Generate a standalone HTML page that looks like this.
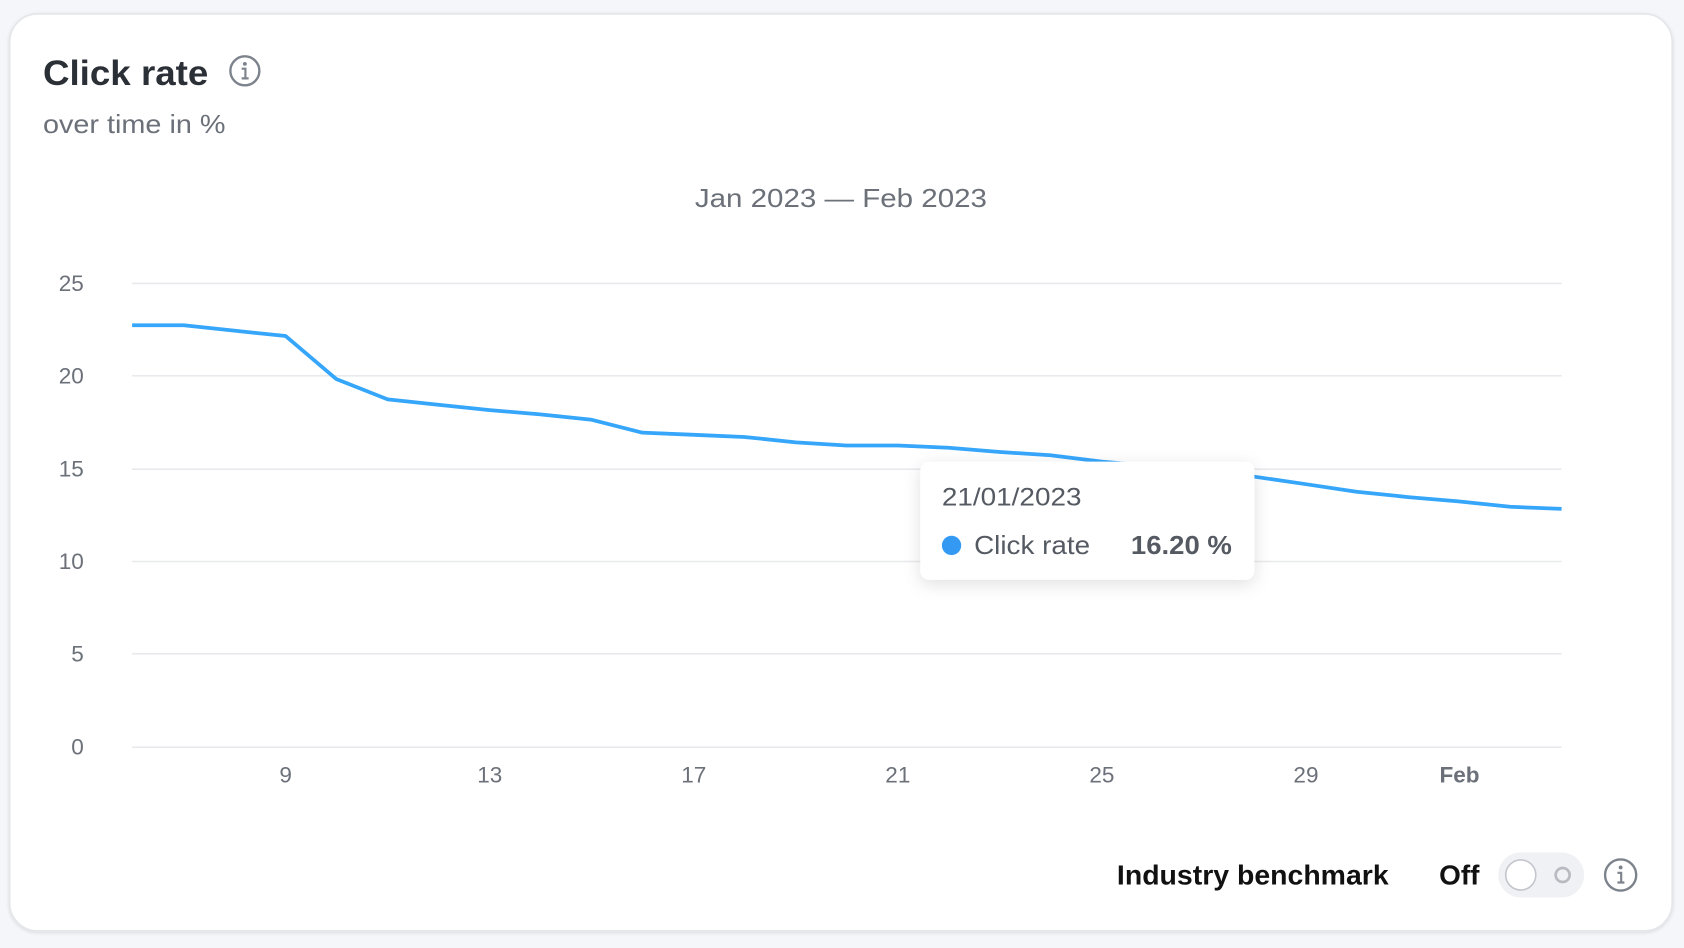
<!DOCTYPE html>
<html><head><meta charset="utf-8"><style>
html,body{margin:0;padding:0;background:#f5f6fa;}
svg{display:block;font-family:"Liberation Sans",Arial,sans-serif;}
</style></head><body>
<svg width="1684" height="948" viewBox="0 0 1568 883" preserveAspectRatio="none" xmlns="http://www.w3.org/2000/svg">
<defs>
<filter id="sh" x="-20%" y="-30%" width="140%" height="170%"><feDropShadow dx="0" dy="4" stdDeviation="8" flood-color="#000" flood-opacity="0.12"/></filter>
<filter id="cs" x="-5%" y="-5%" width="110%" height="110%"><feDropShadow dx="0" dy="1" stdDeviation="1.5" flood-color="#000" flood-opacity="0.12"/></filter>
</defs>
<rect x="0" y="0" width="1568" height="883" fill="#f5f6fa"/>
<rect x="9" y="13" width="1548" height="854" rx="26" fill="#fff" stroke="#e4e6ea" stroke-width="1.5" filter="url(#cs)"/>
<text x="40" y="79" font-size="33" font-weight="bold" fill="#2b2f36" textLength="154" lengthAdjust="spacingAndGlyphs">Click rate</text>
<circle cx="228" cy="66" r="13.5" fill="none" stroke="#7d838c" stroke-width="2.2"/>
<circle cx="228" cy="59.5" r="1.8" fill="#7d838c"/>
<path d="M225 64h3.5v9M225 73h6.5" stroke="#7d838c" stroke-width="2" fill="none"/>
<text x="40" y="124" font-size="24" fill="#6b7079" textLength="170" lengthAdjust="spacingAndGlyphs">over time in %</text>
<text x="647" y="193" font-size="24" fill="#6b7079" textLength="272" lengthAdjust="spacingAndGlyphs">Jan 2023 — Feb 2023</text>
<g stroke="#e8e9ec" stroke-width="1.5">
<line x1="123" y1="264" x2="1454" y2="264"/><line x1="123" y1="350" x2="1454" y2="350"/>
<line x1="123" y1="437" x2="1454" y2="437"/><line x1="123" y1="523" x2="1454" y2="523"/>
<line x1="123" y1="609" x2="1454" y2="609"/><line x1="123" y1="696" x2="1454" y2="696"/>
</g>
<g font-size="21" fill="#6b7079" text-anchor="end">
<text x="78" y="271">25</text><text x="78" y="357">20</text><text x="78" y="444">15</text>
<text x="78" y="530">10</text><text x="78" y="616">5</text><text x="78" y="703">0</text>
</g>
<g font-size="21" fill="#6b7079" text-anchor="middle">
<text x="266" y="729">9</text><text x="456" y="729">13</text><text x="646" y="729">17</text>
<text x="836" y="729">21</text><text x="1026" y="729">25</text><text x="1216" y="729">29</text>
<text x="1359" y="729" font-weight="bold">Feb</text>
</g>
<polyline fill="none" stroke="#36a6fb" stroke-width="3.5" stroke-linejoin="round" points="123,303 171,303 218,308 266,313 313,353 361,372 408,377 456,382 503,386 551,391 598,403 646,405 693,407 741,412 788,415 836,415 883,417 931,421 978,424 1026,430 1073,434 1121,438 1168,444 1216,451 1263,458 1311,463 1358,467 1406,472 1454,474"/>
<rect x="857" y="430" width="311" height="110" rx="8" fill="#fff" filter="url(#sh)"/>
<text x="877" y="471" font-size="23" fill="#555a62" textLength="130" lengthAdjust="spacingAndGlyphs">21/01/2023</text>
<circle cx="886" cy="508" r="9" fill="#3399f3"/>
<text x="907" y="516" font-size="24" fill="#555a62" textLength="108" lengthAdjust="spacingAndGlyphs">Click rate</text>
<text x="1053" y="516" font-size="24" font-weight="bold" fill="#555a62" textLength="94" lengthAdjust="spacingAndGlyphs">16.20 %</text>
<text x="1040" y="824" font-size="26" font-weight="bold" fill="#111" textLength="253" lengthAdjust="spacingAndGlyphs">Industry benchmark</text>
<text x="1340" y="824" font-size="26" font-weight="bold" fill="#111">Off</text>
<rect x="1395" y="794" width="80" height="42" rx="21" fill="#f0f1f4"/>
<circle cx="1416" cy="815" r="14" fill="#fff" stroke="#c3c6cc" stroke-width="1.5"/>
<circle cx="1455" cy="815" r="6.5" fill="none" stroke="#b7bac0" stroke-width="2.5"/>
<circle cx="1509" cy="815" r="14.5" fill="none" stroke="#7d838c" stroke-width="2.2"/>
<circle cx="1509" cy="808" r="1.8" fill="#7d838c"/>
<path d="M1506 813h3.5v9M1506 822h6.5" stroke="#7d838c" stroke-width="2" fill="none"/>
</svg>
</body></html>
